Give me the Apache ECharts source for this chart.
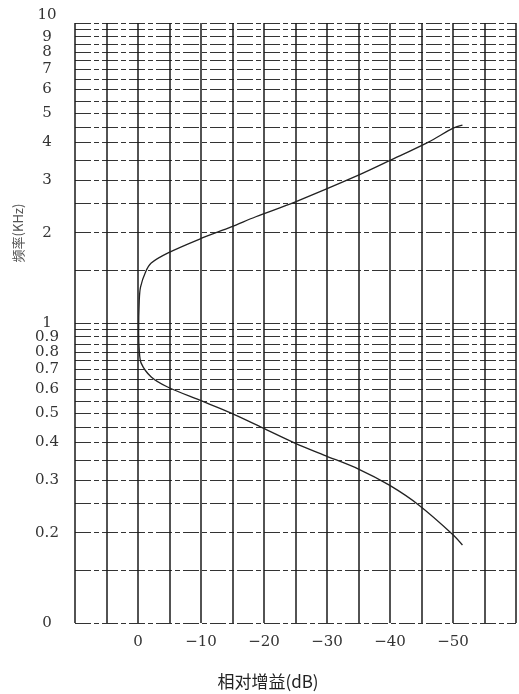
<!DOCTYPE html>
<html>
<head>
<meta charset="utf-8">
<script src="https://cdn.jsdelivr.net/npm/echarts@6/dist/echarts.min.js"></script>
<style>
html,body{margin:0;padding:0;background:#fff;}
#c{width:519px;height:694px;}
</style>
</head>
<body>
<div id="c"></div>
<script>
// Curve: relative gain (dB) vs frequency (kHz)
const gainDb = [-51.5, -50.1, -46.1, -40.1, -35.0, -24.9, -18.7, -14.8, -9.8, -4.7, -2.1, -1.2, -0.4, -0.2, -0.1, -0.2, -0.5, -2.1, -4.7, -9.7, -14.8, -19.8, -24.9, -29.5, -35.0, -39.9, -44.6, -50.0, -51.5];
const freqKHz = [4.57, 4.47, 4.01, 3.49, 3.11, 2.53, 2.26, 2.09, 1.905, 1.71, 1.585, 1.48, 1.318, 1.19, 0.926, 0.813, 0.735, 0.661, 0.612, 0.554, 0.501, 0.447, 0.398, 0.363, 0.326, 0.288, 0.247, 0.197, 0.182];

// Horizontal grid values (kHz)
const gridFreqs = [0.1, 0.15, 0.2, 0.25, 0.3, 0.35, 0.4, 0.45, 0.5, 0.55, 0.6, 0.65, 0.7, 0.75, 0.8, 0.85, 0.9, 0.95, 1,
  1.5, 2, 2.5, 3, 3.5, 4, 4.5, 5, 5.5, 6, 6.5, 7, 7.5, 8, 8.5, 9, 9.5, 10];
// Y tick labels (kHz)
const freqLabels = [0.1, 0.2, 0.3, 0.4, 0.5, 0.6, 0.7, 0.8, 0.9, 1, 2, 3, 4, 5, 6, 7, 8, 9, 10];
// X tick labels (dB)
const gainLabels = [0, -10, -20, -30, -40, -50];

const chart = echarts.init(document.getElementById('c'));
const serif = '"DejaVu Serif", "Liberation Serif", serif';
const topFreq = Math.max.apply(null, freqLabels);

function yLabelFmt(v) {
  if (Math.abs(v - 0.1) < 1e-9) return '0';
  return String(Math.round(v * 10) / 10);
}
const yLabelBase = {
  margin: 28, align: 'center',
  fontFamily: serif, fontSize: 15, color: '#333',
  formatter: yLabelFmt
};

chart.setOption({
  backgroundColor: '#fff',
  animation: false,
  grid: { left: 75, top: 23, width: 451.5, height: 600, containLabel: false },
  xAxis: {
    type: 'value',
    min: -60, max: 10, interval: 5,
    inverse: true,
    axisLine: { show: false },
    axisTick: { show: false },
    splitLine: { show: true, lineStyle: { color: '#1a1a1a', width: 1.5 } },
    axisLabel: {
      margin: 12,
      fontFamily: serif, fontSize: 15, color: '#333',
      formatter: function (v) {
        if (gainLabels.indexOf(v) < 0) return '';
        return v === 0 ? '0' : '\u2212' + Math.abs(v);
      }
    }
  },
  yAxis: [{
    type: 'log',
    logBase: 10,
    min: 0.1, max: 10,
    position: 'left',
    axisLine: { show: false },
    axisTick: { show: false, customValues: gridFreqs },
    splitLine: { show: true, lineStyle: { color: '#333', width: 1.1, type: [16, 3, 5, 3] } },
    axisLabel: Object.assign({}, yLabelBase, {
      customValues: freqLabels.filter(v => v < topFreq),
      showMinLabel: true
    })
  }, {
    type: 'log',
    logBase: 10,
    min: 0.1, max: 10,
    position: 'left',
    offset: 0,
    axisLine: { show: false },
    axisTick: { show: false },
    splitLine: { show: false },
    axisLabel: Object.assign({}, yLabelBase, {
      customValues: [topFreq],
      showMaxLabel: true,
      verticalAlign: 'bottom',
      padding: [0, 0, 0, 0]
    })
  }],
  graphic: [
    {
      type: 'text', x: 18, y: 233, rotation: Math.PI / 2,
      style: { text: '频率(KHz)', fill: '#555', font: '13px "Noto Sans CJK SC", sans-serif', align: 'center', verticalAlign: 'middle' }
    },
    {
      type: 'text', x: 268, y: 682,
      style: { text: '相对增益(dB)', fill: '#222', font: '17px "Noto Sans CJK SC", sans-serif', align: 'center', verticalAlign: 'middle' }
    }
  ],
  series: [{
    type: 'line',
    yAxisIndex: 0,
    data: gainDb.map((g, i) => [g, freqKHz[i]]),
    showSymbol: false,
    smooth: 0.3,
    lineStyle: { color: '#222', width: 1.3 }
  }]
});
</script>
</body>
</html>
